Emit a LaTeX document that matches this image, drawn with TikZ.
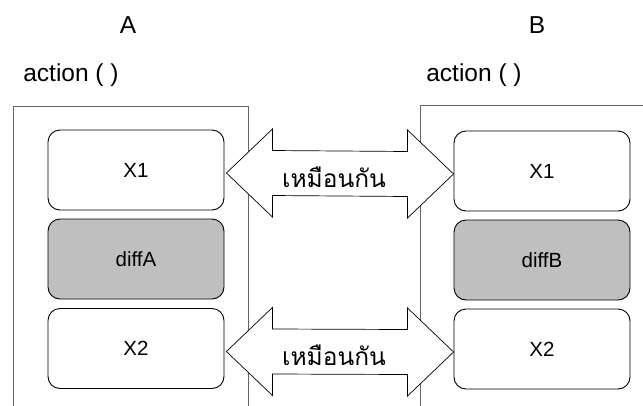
\documentclass[tikz,border=0pt]{standalone}
\usepackage{fontspec}
\setmainfont{Liberation Sans}
\newfontfamily\thaifont[Script=Thai]{Loma}
\usetikzlibrary{calc}

\begin{document}
\begin{tikzpicture}[x=1pt,y=-1pt,
  frame/.style={draw=black!60, line width=1pt},
  stepbox/.style={draw=black, line width=0.9pt, rounded corners=12pt,
    minimum width=176pt, minimum height=80pt, fill=white, inner sep=0pt,
    font=\fontsize{20.5}{24}\selectfont},
  diffbox/.style={stepbox, fill=black!25},
  title/.style={font=\fontsize{24.5}{28}\selectfont},
  bigarrow/.style={draw=black, line width=0.7pt, fill=white},
  samelabel/.style={font=\thaifont\fontsize{24.5}{28}\selectfont}
]
\useasboundingbox (0,0) rectangle (643,405);
\clip (0,0) rectangle (643,405);
\fill[white] (0,0) rectangle (643,405);

% headings
\node[title] (ta) at (128,25) {A};
\node[title] (tb) at (537,25) {B};
\node[title] (aa) at (71,75) {action ( )};
\node[title] (ab) at (474,75) {action ( )};

% method frames, open at the bottom
\draw[frame] (13,420) -- (13,106) -- (248,106) -- (248,420);
\draw[frame] (420,420) -- (420,105) -- (660,105);

% blocks of A
\node[stepbox] (x1a) at (136,170) {X1};
\node[diffbox] (da) at (136,259) {diffA};
\node[stepbox] (x2a) at (136,348.5) {X2};

% blocks of B
\node[stepbox] (x1b) at (542,171) {X1};
\node[diffbox] (db) at (542,260) {diffB};
\node[stepbox] (x2b) at (542,349) {X2};

% double arrows between the shared blocks
\foreach \l/\r/\n in {x1a/x1b/s1, x2a/x2b/s2}{
  \draw[bigarrow] ($(\l.east)+(2,3)$) -- ++(46,-44) -- ++(0,21.5)
    -- ($(\r.west)+(-46,-19.5)$) -- ++(0,-21.5) -- ($(\r.west)+(0,3)$)
    -- ++(-46,44) -- ++(0,-21.5) -- ($(\l.east)+(48,25.5)$) -- ++(0,21.5) -- cycle;
  \node[samelabel] (\n) at ($($(\l.east)!0.5!(\r.west)$)+(-5,7)$) {เหมือนกัน};
}
\end{tikzpicture}
\end{document}
